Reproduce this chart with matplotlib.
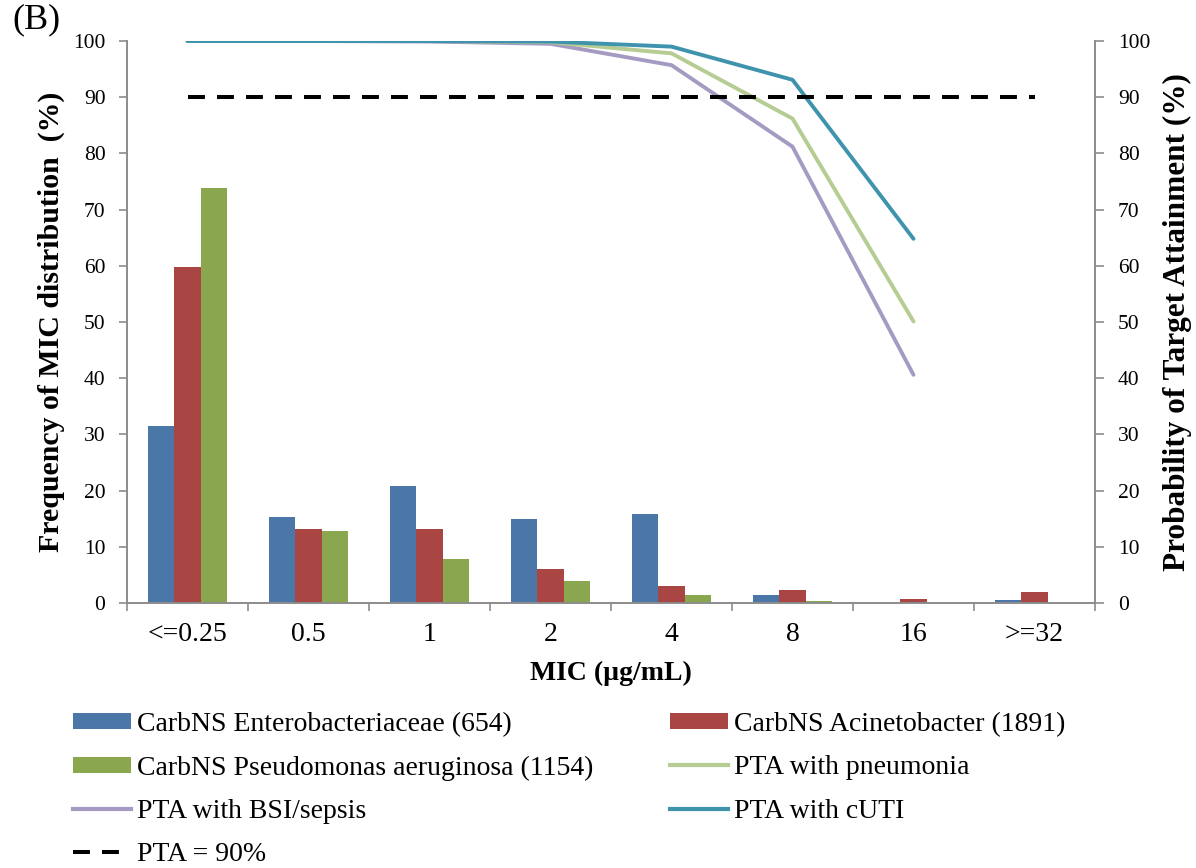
import matplotlib
matplotlib.use('Agg')
import matplotlib.pyplot as plt
import numpy as np
from matplotlib.lines import Line2D
from matplotlib.patches import Patch

# ---------------- data ----------------
categories = ['<=0.25', '0.5', '1', '2', '4', '8', '16', '>=32']
entero = [31.5, 15.3, 20.8, 15.0, 15.8, 1.5, 0.0, 0.6]
acineto = [59.8, 13.1, 13.1, 6.0, 3.0, 2.3, 0.8, 2.0]
pseudo = [73.8, 12.8, 7.8, 4.0, 1.5, 0.3, 0.0, 0.0]
pta_bsi = [100, 100, 99.9, 99.5, 95.7, 81.2, 40.6]
pta_pneumonia = [100, 100, 100, 99.8, 97.8, 86.2, 50.1]
pta_cuti = [100, 100, 100, 99.9, 99.0, 93.1, 64.8]
pta_target = [90, 90, 90, 90, 90, 90, 90, 90]

bar_labels = ['CarbNS Enterobacteriaceae (654)', 'CarbNS Acinetobacter (1891)',
              'CarbNS Pseudomonas aeruginosa (1154)']
line_labels = ['PTA with pneumonia', 'PTA with BSI/sepsis', 'PTA with cUTI', 'PTA = 90%']

# ---------------- style ----------------
plt.rcParams['font.family'] = ['Liberation Serif', 'DejaVu Serif']
c_entero, c_acineto, c_pseudo = '#4A76A8', '#A94643', '#8AA64F'
c_pneu, c_bsi, c_cuti = '#B5CC92', '#A59BC2', '#3F93AD'
spine_c = '#8C8C8C'

W, H = 1196, 868
fig = plt.figure(figsize=(W / 100, H / 100), dpi=100)
ax = fig.add_axes([127 / W, 1 - 603 / H, 968 / W, 562 / H])

x = np.arange(len(categories))
w = 0.219
ax.bar(x - w, entero, w, color=c_entero, zorder=2)
ax.bar(x, acineto, w, color=c_acineto, zorder=2)
ax.bar(x + w, pseudo, w, color=c_pseudo, zorder=2)
ax.set_xlim(-0.5, len(categories) - 0.5)
ax.set_ylim(0, 100)

ax2 = ax.twinx()
ax2.set_ylim(0, 100)
xl = x[:len(pta_bsi)]
ax2.plot(xl, pta_bsi, color=c_bsi, lw=2.8, solid_capstyle='round', zorder=3)
ax2.plot(xl, pta_pneumonia, color=c_pneu, lw=2.8, solid_capstyle='round', zorder=4)
ax2.plot(xl, pta_cuti, color=c_cuti, lw=2.8, solid_capstyle='round', zorder=5)
ax2.plot(x, pta_target, color='black', lw=2.9, dashes=(4.2, 3.0), zorder=6)

# spines
for a in (ax, ax2):
    a.spines['top'].set_visible(False)
    for s in ('left', 'right', 'bottom'):
        a.spines[s].set_color(spine_c)
        a.spines[s].set_linewidth(1.2)

# ticks
ax.set_xticks(x, categories)
ax.set_xticks(np.arange(-0.5, len(categories), 1), minor=True)
ax.tick_params(axis='x', which='major', length=0, labelsize=20, pad=14)
ax.tick_params(axis='x', which='minor', length=5.5, width=1.2, color=spine_c, direction='out')
ax.set_yticks(np.arange(0, 101, 10))
ax.tick_params(axis='y', length=5.5, width=1.2, color=spine_c, labelsize=15.5, pad=10)
ax2.set_yticks(np.arange(0, 101, 10))
ax2.tick_params(axis='y', length=6.5, width=1.2, color=spine_c, labelsize=15.5, pad=10)

# labels
ax.set_xlabel('MIC (µg/mL)', fontsize=20, fontweight='bold', va='center')
ax.xaxis.set_label_coords(0.5, (603 - 673) / 562)
ax.set_ylabel('Frequency of MIC distribution  (%)', fontsize=21.5, fontweight='bold', va='center')
ax.yaxis.set_label_coords((51 - 127) / 968, 0.5)
ax2.set_ylabel('Probability of Target Attainment (%)', fontsize=22.5, fontweight='bold', va='center')
ax2.yaxis.set_label_coords((1177 - 127) / 968, 0.5)

fig.text(36 / W, 1 - 20 / H, '(B)', fontsize=26, ha='center', va='center')

# legend
h_entero = Patch(facecolor=c_entero)
h_acineto = Patch(facecolor=c_acineto)
h_pseudo = Patch(facecolor=c_pseudo)
h_pneu = Line2D([], [], color=c_pneu, lw=3)
h_bsi = Line2D([], [], color=c_bsi, lw=3)
h_cuti = Line2D([], [], color=c_cuti, lw=3)
h_target = Line2D([], [], color='black', lw=2.9, dashes=(4.2, 3.0))

leg_kw = dict(loc='upper left', bbox_transform=fig.transFigure, frameon=False, fontsize=20,
              handlelength=2.09, handletextpad=0.22, handleheight=0.5, labelspacing=0.66,
              borderpad=0, borderaxespad=0)
leg1 = fig.legend([h_entero, h_pseudo, h_bsi, h_target],
                  [bar_labels[0], bar_labels[2], line_labels[1], line_labels[3]],
                  bbox_to_anchor=(73 / W, 1 - 712 / H), **leg_kw)
leg2 = fig.legend([h_acineto, h_pneu, h_cuti],
                  [bar_labels[1], line_labels[0], line_labels[2]],
                  bbox_to_anchor=(670 / W, 1 - 712 / H), **leg_kw)

fig.savefig('out.png', dpi=100)
